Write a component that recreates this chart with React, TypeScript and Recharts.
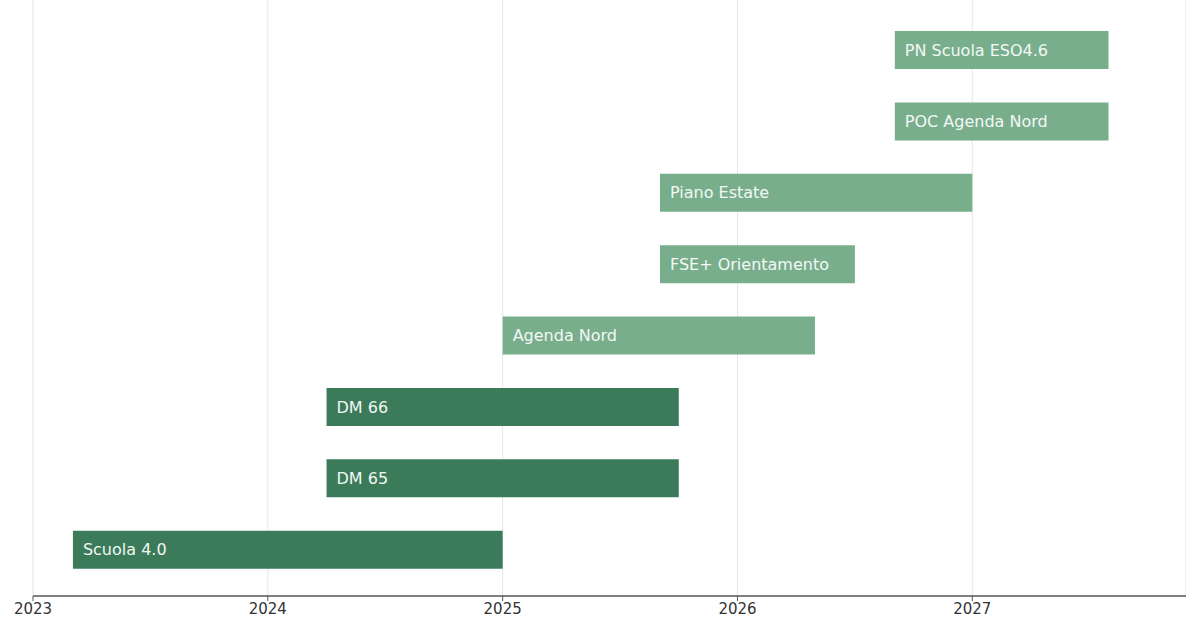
import { BarChart, Bar, XAxis, YAxis, CartesianGrid, Cell, LabelList } from "recharts";

// programmi, dal basso verso l'alto
const programs = ["Scuola 4.0", "DM 65", "DM 66", "Agenda Nord", "FSE+ Orientamento", "Piano Estate", "POC Agenda Nord", "PN Scuola ESO4.6"];
const starts = [2023.17, 2024.25, 2024.25, 2025.0, 2025.67, 2025.67, 2026.67, 2026.67];
const ends = [2025.0, 2025.75, 2025.75, 2026.33, 2026.5, 2027.0, 2027.58, 2027.58];
const groups = ["avviato", "avviato", "avviato", "nuovo", "nuovo", "nuovo", "nuovo", "nuovo"];
const yearTicks = [2023, 2024, 2025, 2026, 2027];

const groupColor: Record<string, string> = { avviato: "#3b7b5a", nuovo: "#79ae8d" };

const data = programs.map((name, i) => ({ name, range: [starts[i], ends[i]], group: groups[i] }));

export default function App() {
  return (
    <div style={{ position: "absolute", left: 0, top: 0, background: "#fff" }}>
      <BarChart width={1186} height={629} data={data} layout="vertical" margin={{ top: 0, right: 0, left: 33, bottom: 0 }}>
        <CartesianGrid horizontal={false} stroke="#e6e6e6" strokeWidth={1} />
        <XAxis
          type="number"
          domain={[2023, 2027.91]}
          ticks={yearTicks}
          allowDataOverflow
          height={33}
          axisLine={{ stroke: "#555", strokeWidth: 1.6 }}
          tickLine={{ stroke: "#555" }}
          tickSize={5}
          tick={{ fill: "#333", fontSize: 15, fontFamily: "DejaVu Sans" }}
        />
        <YAxis type="category" dataKey="name" hide reversed padding={{ top: 14, bottom: 11 }} />
        <Bar dataKey="range" barSize={38} isAnimationActive={false}>
          {data.map((d) => (
            <Cell key={d.name} fill={groupColor[d.group]} />
          ))}
          <LabelList dataKey="name" position="insideLeft" offset={10} fill="#f2f8f4" fontSize={16} fontFamily="DejaVu Sans" />
        </Bar>
      </BarChart>
    </div>
  );
}
